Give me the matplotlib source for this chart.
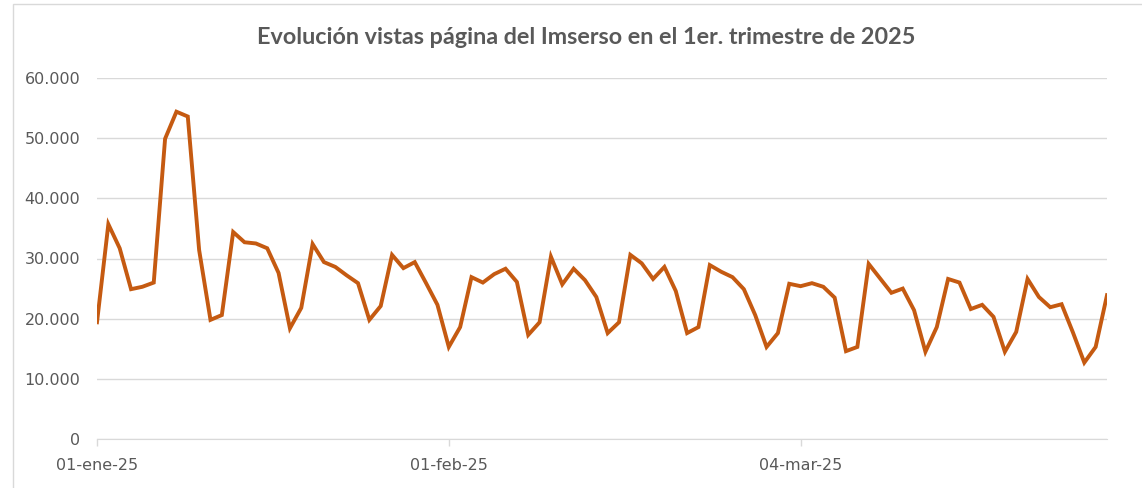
import pandas as pd
import matplotlib
matplotlib.use("Agg")
import matplotlib.pyplot as plt
from matplotlib.patches import Rectangle

# daily page views, 01-ene-2025 .. 31-mar-2025
fechas = pd.date_range("2025-01-01", "2025-03-31", freq="D")
vistas = [
    19400, 35700, 31700, 24900, 25300, 26000, 49900, 54400, 53600, 31400,
    19800, 20600, 34400, 32700, 32500, 31700, 27600, 18400, 21800, 32400,
    29400, 28600, 27200, 25900, 19800, 22100, 30600, 28400, 29400, 25900,
    22300, 15300, 18600, 26900, 26000, 27400, 28300, 26100, 17300, 19400,
    30300, 25700, 28300, 26400, 23600, 17600, 19400, 30600, 29200, 26600,
    28600, 24600, 17600, 18600, 28900, 27800, 26900, 24900, 20600, 15300,
    17600, 25800, 25400, 25900, 25300, 23500, 14600, 15300, 29100, 26700,
    24300, 25000, 21400, 14500, 18600, 26600, 26000, 21600, 22300, 20300,
    14500, 17800, 26600, 23600, 21900, 22400, 17700, 12700, 15300, 23900,
]
tick_fechas = ["2025-01-01", "2025-02-01", "2025-03-04"]
tick_labels = ["01-ene-25", "01-feb-25", "04-mar-25"]
y_ticks = [0, 10000, 20000, 30000, 40000, 50000, 60000]
y_labels = ["0", "10.000", "20.000", "30.000", "40.000", "50.000", "60.000"]

texto = "#595959"
gris = "#D9D9D9"

fig = plt.figure(figsize=(11.42, 4.88), dpi=100)
ax = fig.add_axes([97 / 1142, 1 - 439 / 488, 1010 / 1142, 361 / 488])

ax.plot(fechas, vistas, color="#C55A11", lw=2.8, solid_joinstyle="miter")

ax.set_xlim(fechas[0], fechas[-1])
ax.set_ylim(0, 60000)
ax.set_yticks(y_ticks)
ax.set_yticklabels(y_labels)
ax.set_xticks(pd.to_datetime(tick_fechas))
ax.set_xticklabels(tick_labels)

ax.grid(axis="y", color=gris, lw=1)
ax.set_axisbelow(True)
for s in ["top", "right", "left"]:
    ax.spines[s].set_visible(False)
ax.spines["bottom"].set_color(gris)
ax.spines["bottom"].set_zorder(0)

ax.tick_params(axis="y", length=0, pad=12, labelsize=11.5, labelcolor=texto)
ax.tick_params(axis="x", length=5, width=1, color=gris, direction="out",
               pad=9, labelsize=11.5, labelcolor=texto)

fig.text(586 / 1142, 1 - 38 / 488, "Evolución vistas página del Imserso en el 1er. trimestre de 2025",
         ha="center", va="center", fontsize=16.8, fontweight="bold", color=texto, family="Lato")

# chart area border (cut off at right and bottom)
fig.patches.append(Rectangle((13 / 1142, -0.2), 1.2, 0.2 + 1 - 4 / 488,
                             transform=fig.transFigure, fill=False,
                             edgecolor=gris, lw=1, clip_on=False))

fig.savefig("out.png", dpi=100)
